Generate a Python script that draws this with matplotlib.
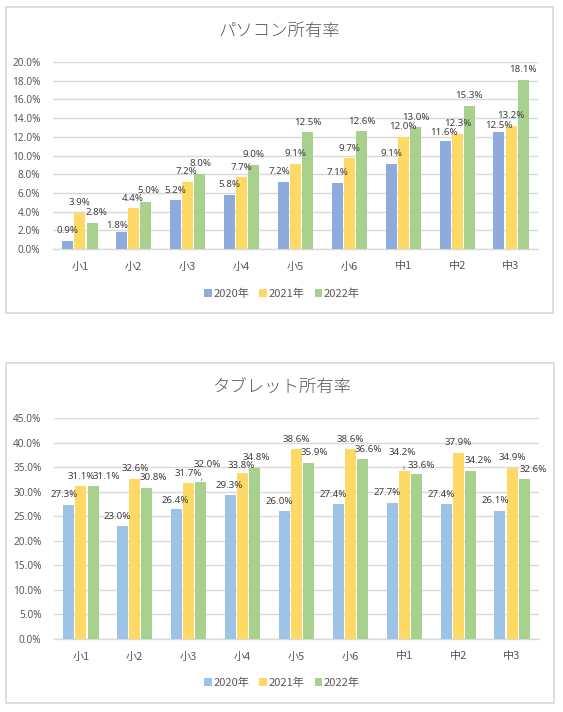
import numpy as np
import matplotlib.pyplot as plt
from matplotlib.patches import Rectangle, Patch

plt.rcParams['font.family'] = ['Noto Sans CJK JP', 'DejaVu Sans']

grades = ["小1", "小2", "小3", "小4", "小5", "小6", "中1", "中2", "中3"]
years = ["2020年", "2021年", "2022年"]

pc_2020 = [0.9, 1.8, 5.2, 5.8, 7.2, 7.1, 9.1, 11.6, 12.5]
pc_2021 = [3.9, 4.4, 7.2, 7.7, 9.1, 9.7, 12.0, 12.3, 13.2]
pc_2022 = [2.8, 5.0, 8.0, 9.0, 12.5, 12.6, 13.0, 15.3, 18.1]

tab_2020 = [27.3, 23.0, 26.4, 29.3, 26.0, 27.4, 27.7, 27.4, 26.1]
tab_2021 = [31.1, 32.6, 31.7, 33.8, 38.6, 38.6, 34.2, 37.9, 34.9]
tab_2022 = [31.1, 30.8, 32.0, 34.8, 35.9, 36.6, 33.6, 34.2, 32.6]

# label nudges in pixels: (series, category) -> (dx, dy), dy measured from bar top
pc_nudge = {(0, 1): (-5, 7), (2, 0): (4, 10), (0, 4): (-4, 10),
            (0, 7): (-1, 8), (0, 8): (0, 7), (1, 1): (-1, 9), (2, 1): (2, 12),
            (1, 2): (-1, 10), (2, 2): (1, 11), (1, 7): (1, 10)}
tab_series_dx = [-5, 0, 6]
tab_nudge = {(2, 0): (13, 10), (2, 2): (6, 17), (1, 6): (-2, 19),
             (1, 3): (-1, 8), (2, 3): (2, 11), (2, 6): (5, 8), (2, 7): (8, 11),
             (2, 8): (9, 9), (0, 2): (-1, 9), (0, 3): (-1, 10)}
leaders = {"tab": [(2, 2), (1, 6)]}

W, H = 563, 712
fig = plt.figure(figsize=(W / 100, H / 100), dpi=100)

grid_c = "#D9D9D9"
text_c = "#595959"
label_c = "#404040"


def box(x0, y0, x1, y1):
    # pixel coords from top-left
    fig.patches.append(Rectangle((x0 / W, 1 - y1 / H), (x1 - x0) / W, (y1 - y0) / H,
                                 transform=fig.transFigure, fill=False,
                                 edgecolor=grid_c, linewidth=1.2))


def chart(rect, title, title_xy, series, colors, ymax, ystep, legend_y,
          series_dx, nudge, leader):
    x0, y0, x1, y1 = rect
    ax = fig.add_axes([x0 / W, 1 - y1 / H, (x1 - x0) / W, (y1 - y0) / H])
    x = np.arange(len(grades))
    pitch = 0.225
    width = 0.205
    for k, (vals, col) in enumerate(zip(series, colors)):
        pos = x + (k - 1) * pitch
        ax.bar(pos, vals, width, color=col, zorder=3)
        for j, v in enumerate(vals):
            dx, dy = nudge.get((k, j), (series_dx[k], 10))
            kw = {}
            if (k, j) in leader:
                kw["arrowprops"] = dict(arrowstyle="-", color="#7F7F7F", lw=0.6,
                                        shrinkA=5, shrinkB=1)
            ax.annotate("{:.1f}%".format(v), (pos[j], v),
                        xytext=(dx, dy), textcoords="offset pixels",
                        ha="center", va="center", fontsize=7, color=label_c,
                        family=['Noto Sans', 'DejaVu Sans'], zorder=5, **kw)
    ax.set_xlim(-0.5, len(grades) - 0.5)
    ax.set_ylim(0, ymax)
    yt = np.arange(0, ymax + ystep / 2, ystep)
    ax.set_yticks(yt)
    ax.set_yticklabels(["{:.1f}%".format(t) for t in yt], fontsize=7.2, color=text_c,
                       family=['Noto Sans', 'DejaVu Sans'])
    ax.set_xticks(x)
    ax.set_xticklabels(grades, fontsize=8, color=text_c)
    ax.tick_params(length=0)
    ax.tick_params(axis="y", pad=9)
    ax.tick_params(axis="x", pad=9)
    ax.grid(axis="y", color=grid_c, linewidth=1, zorder=0)
    for s in ["top", "right", "left"]:
        ax.spines[s].set_visible(False)
    ax.spines["bottom"].set_color(grid_c)
    ax.spines["bottom"].set_linewidth(1)
    fig.text(title_xy[0] / W, 1 - title_xy[1] / H, title, ha="center", va="center",
             fontsize=12.5, color=text_c, fontweight="light")
    handles = [Patch(facecolor=c) for c in colors]
    fig.legend(handles, years, loc="center", bbox_to_anchor=(282 / W, 1 - legend_y / H),
               ncol=3, frameon=False, fontsize=8, handlelength=0.7, handleheight=0.7,
               handletextpad=0.15, columnspacing=0.9, labelcolor=text_c)
    return ax


box(6, 7, 553, 313)
box(6, 363, 554, 703)

chart((53, 62, 538, 249), "パソコン所有率", (279, 31),
      [pc_2020, pc_2021, pc_2022], ["#8FAADC", "#FFD966", "#A9D18E"],
      20, 2, 294, [0, 0, 0], pc_nudge, [])

chart((54, 418, 539, 639), "タブレット所有率", (282, 387),
      [tab_2020, tab_2021, tab_2022], ["#9DC3E6", "#FFD966", "#A9D18E"],
      45, 5, 683, tab_series_dx, tab_nudge, leaders["tab"])

fig.savefig("out.png", dpi=100, facecolor="white")
